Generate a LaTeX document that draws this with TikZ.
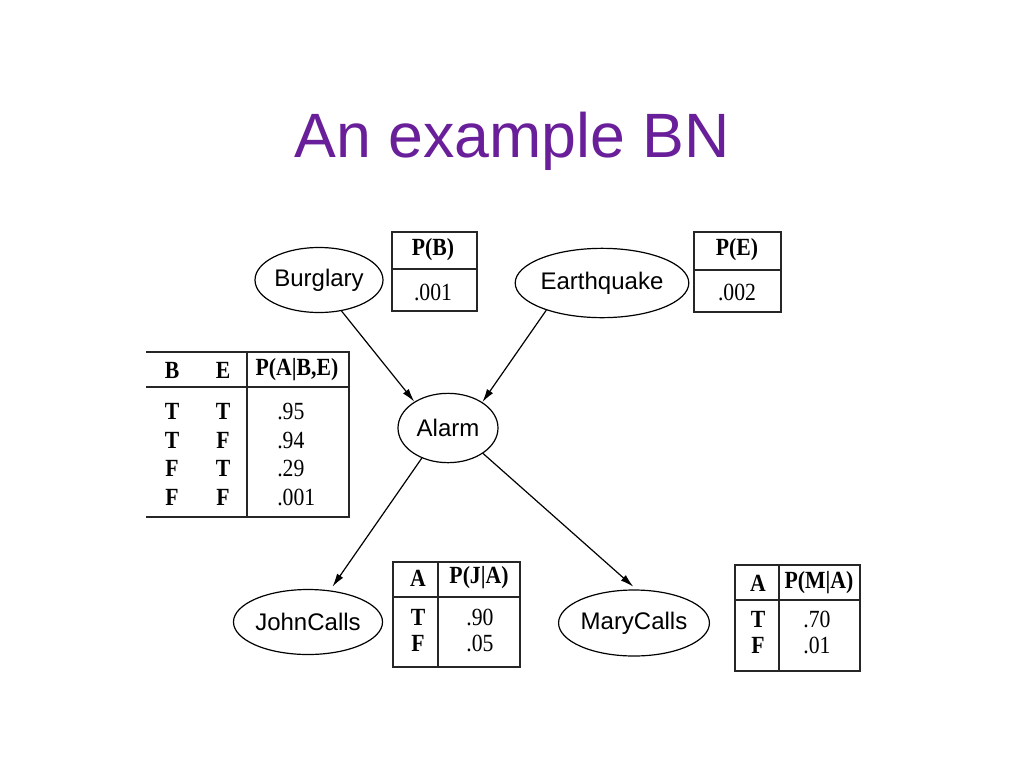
\documentclass[tikz,border=0pt]{standalone}
\usepackage{fontspec}
\setmainfont{Liberation Serif}
\setsansfont{Liberation Sans}
\newfontfamily\cptfont[FakeStretch=0.88]{Liberation Serif}
\usetikzlibrary{arrows.meta,positioning,shapes}
\definecolor{titlepurple}{RGB}{106,31,154}
\tikzstyle{bnnode}=[
	ellipse,
	draw=black,
	line width=0.9pt,
	inner sep=0pt,
	font=\sffamily\fontsize{18}{20}\selectfont]
\tikzstyle{bnedge}=[-{Latex[length=10pt,width=5.5pt]},line width=0.9pt]
\tikzstyle{cpt}=[inner sep=0pt,font=\cptfont\fontsize{18.5}{20}\selectfont]
\tikzstyle{cptbold}=[inner sep=0pt,font=\cptfont\fontsize{18.5}{20}\selectfont\bfseries]
\tikzstyle{cptline}=[line width=1pt,draw=black!85]
\tikzstyle{cptsep}=[line width=2.2pt,draw=black!85]

\begin{document}
\begin{tikzpicture}[x=0.75pt,y=-0.75pt]
	\useasboundingbox (0,0) rectangle (1024,768);
	\node[font=\sffamily\fontsize{47}{50}\selectfont,text=titlepurple,anchor=base]
		(title) at (512,157) {An example BN};
	% network
	\node[bnnode,minimum width=96pt,minimum height=48.75pt] (burglary) at (319,280) {Burglary};
	\node[bnnode,minimum width=125pt,minimum height=52pt] (earthquake) at (602,283) {Earthquake};
	\node[bnnode,minimum width=75pt,minimum height=52pt] (alarm) at (448,428) {Alarm};
	\node[bnnode,minimum width=96pt,minimum height=48.75pt] (john) at (308,622) {JohnCalls};
	\node[bnnode,minimum width=98pt,minimum height=49.5pt] (mary) at (634,623) {MaryCalls};
	\draw[bnedge] (burglary.-54) -- (alarm.142);
	\draw[bnedge] (earthquake.-154) -- (alarm.37);
	\draw[bnedge] (alarm.-131) -- ([shift={(0pt,3pt)}]john.52);
	\draw[bnedge] (alarm.-36) -- ([shift={(0pt,2pt)}]mary.91);
	% P(B)
	\draw[cptline] (392,232) rectangle (477,311);
	\draw[cptsep] (392,269) -- (477,269);
	\node[cptbold] (pbhead) at (433,250) {P(B)};
	\node[cpt] (pbval) at (433,292) {.001};
	% P(E)
	\draw[cptline] (694,232) rectangle (781,312);
	\draw[cptsep] (694,270) -- (781,270);
	\node[cptbold] (pehead) at (737,250) {P(E)};
	\node[cpt] (peval) at (737,292) {.002};
	% P(A|B,E)
	\draw[cptline] (146,352) -- (349,352) -- (349,517) -- (146,517);
	\draw[cptline] (247,352) -- (247,517);
	\draw[cptsep] (146,387) -- (349,387);
	\node[cptbold] (pabh) at (172,370) {B};
	\node[cptbold] (paeh) at (223,370) {E};
	\node[cptbold] (pahead) at (297,370) {P(A|B,E)};
	\foreach \b/\e/\p/\y in {T/T/.95/411,T/F/.94/440,F/T/.29/468,F/F/.001/497}{
		\node[cptbold] (pab\y) at (172,\y) {\b};
		\node[cptbold] (pae\y) at (223,\y) {\e};
		\node[cpt,anchor=west] (pa\y) at (277,\y) {\p};
	}
	% P(J|A)
	\draw[cptline] (393,562) rectangle (520,667);
	\draw[cptline] (438,562) -- (438,667);
	\draw[cptsep] (393,597) -- (520,597);
	\node[cptbold] (pjah) at (418,578) {A};
	\node[cptbold] (pjhead) at (479,578) {P(J|A)};
	\node[cptbold] (pjat) at (418,617) {T};
	\node[cptbold] (pjaf) at (418,643) {F};
	\node[cpt] (pjt) at (480,617) {.90};
	\node[cpt] (pjf) at (480,643) {.05};
	% P(M|A)
	\draw[cptline] (735,565) rectangle (860,671);
	\draw[cptline] (779,565) -- (779,671);
	\draw[cptsep] (735,600) -- (860,600);
	\node[cptbold] (pmah) at (758,583) {A};
	\node[cptbold] (pmhead) at (819,583) {P(M|A)};
	\node[cptbold] (pmat) at (758,619) {T};
	\node[cptbold] (pmaf) at (758,645) {F};
	\node[cpt] (pmt) at (817,619) {.70};
	\node[cpt] (pmf) at (817,645) {.01};
\end{tikzpicture}
\end{document}
